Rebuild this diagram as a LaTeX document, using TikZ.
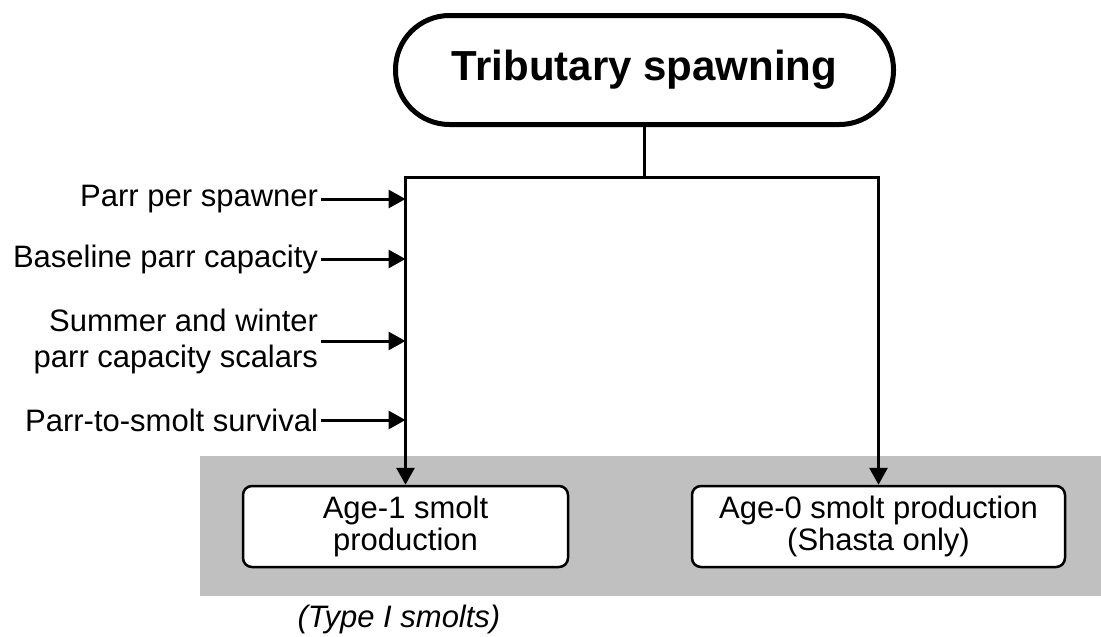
\documentclass[tikz,border=0pt]{standalone}
\usepackage{fontspec}
\setmainfont{Liberation Sans}
\usetikzlibrary{arrows.meta}
\definecolor{panelGray}{HTML}{C0C0C0}

\begin{document}
\begin{tikzpicture}[x=1pt, y=-1pt, >={Triangle[length=17pt,width=18pt]}, line width=3pt]

  \tikzstyle{T}=[draw, line width=5pt, rounded corners=54pt, minimum width=498pt, minimum height=109pt, inner sep=0pt, font=\fontsize{42}{50}\selectfont\bfseries]
  \tikzstyle{L}=[anchor=east, align=right, inner sep=1.5pt, font=\fontsize{31}{36}\selectfont]
  \tikzstyle{B}=[draw, fill=white, line width=2.5pt, rounded corners=9pt, inner sep=0pt, align=center, font=\fontsize{31}{32}\selectfont]

  \useasboundingbox (0,0) rectangle (1101,637);

  % shaded band behind the two outputs
  \fill[panelGray] (200,456) rectangle (1101,596);

  \node[T] at (644.5,70) (spawn) {Tributary spawning};

  \node[B, minimum width=325pt, minimum height=81pt] at (405.5,526.5) (age1) {Age-1 smolt\\production};
  \node[B, minimum width=373pt, minimum height=81pt] at (878.5,526.5) (age0) {Age-0 smolt production\\(Shasta only)};
  \node[font=\fontsize{31}{36}\selectfont\itshape] at (399,619) (type1) {(Type I smolts)};

  \node[L] at (321,199) (pps) {Parr per spawner};
  \node[L] at (321,259) (cap) {Baseline parr capacity};
  \node[L] at (321,341) (scal) {Summer and winter\\parr capacity scalars};
  \node[L] at (321,420) (surv) {Parr-to-smolt survival};

  \coordinate (fork) at (644.5,177);

  \draw (spawn) -- (fork);
  \draw[->] (fork) -| (age1);
  \draw[->] (fork) -| (age0);

  \draw[->] (pps) -- (pps -| age1);
  \draw[->] (cap) -- (cap -| age1);
  \draw[->] (scal) -- (scal -| age1);
  \draw[->] (surv) -- (surv -| age1);

\end{tikzpicture}
\end{document}
